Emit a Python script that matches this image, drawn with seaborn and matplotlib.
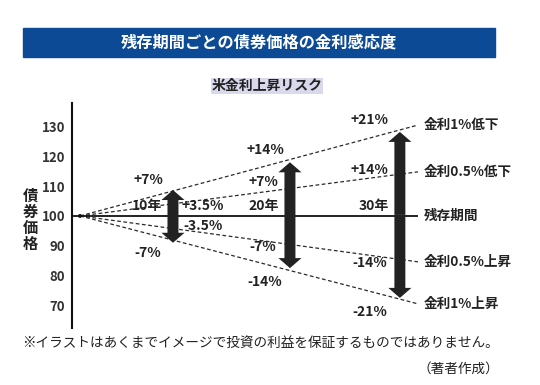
import numpy as np
import pandas as pd
import matplotlib
matplotlib.use("Agg")
import matplotlib.pyplot as plt
from matplotlib.patches import FancyArrowPatch, Rectangle
import seaborn as sns

# values (illustrative scale, not the % labels)
years = [10, 20, 30]
year_labels = ["10年", "20年", "30年"]
arrow_top = [108.7, 118.0, 128.2]
arrow_bottom = [91.0, 82.5, 72.5]

scenarios = ["金利1%低下", "金利0.5%低下", "金利0.5%上昇", "金利1%上昇"]
line_end_x = 31.7
line_end_y = [130.5, 114.8, 84.6, 70.5]
base_label = "残存期間"

yticks = [70, 80, 90, 100, 110, 120, 130]

# percent labels: (text, year, y, dx in px from arrow)
pct_labels = [
    ("+7%", 10, 112.1, -25), ("-7%", 10, 87.6, -25),
    ("+3.5%", 10, 103.4, 30), ("-3.5%", 10, 96.6, 30),
    ("+14%", 20, 122.1, -25), ("+7%", 20, 111.4, -27),
    ("-7%", 20, 89.6, -27), ("-14%", 20, 77.9, -25),
    ("+21%", 30, 132.2, -30), ("+14%", 30, 115.4, -30),
    ("-14%", 30, 84.2, -30), ("-21%", 30, 67.8, -30),
]

sns.set_theme(style="white")
plt.rcParams["font.family"] = ["Noto Sans CJK JP", "DejaVu Sans"]
TXT = "#222222"

# the illustration spaces the maturities unevenly; keep that with a
# piecewise-linear x scale (years -> drawn position)
knots = [-10, 0, 10, 20, 30, 40]
drawn = [-10, 0, 8.72, 19.69, 30, 40]


def fwd(x):
    return np.interp(np.asarray(x, float), knots, drawn)


def inv(u):
    return np.interp(np.asarray(u, float), drawn, knots)


fig = plt.figure(figsize=(5.4, 3.85), dpi=100)
ax = fig.add_axes([72 / 540, 1 - 328 / 385, 346 / 540, 225 / 385])
ax.set_xscale("function", functions=(fwd, inv))
ax.set_xlim(-0.75, line_end_x)
ax.set_ylim(62.4, 137.9)

# dashed rate lines from the origin
df = pd.DataFrame({
    "scenario": np.repeat(scenarios, 2),
    "x": [0, line_end_x] * len(scenarios),
    "y": [v for end in line_end_y for v in (100, end)],
})
for name, grp in df.groupby("scenario", sort=False):
    sns.lineplot(data=grp, x="x", y="y", ax=ax, color="#2a2a2a",
                 linewidth=0.9, linestyle=(0, (3, 2)), estimator=None)

ax.axhline(100, color="#111111", linewidth=1.3, zorder=2)
sns.scatterplot(x=[0], y=[100], ax=ax, color="#111111", s=8, zorder=4,
                edgecolor="none")

# double headed arrows (two heads drawn from the middle, sizes in points)
style = "simple,head_length=0.72,head_width=1.66,tail_width=0.79"
for x, top, bot in zip(years, arrow_top, arrow_bottom):
    mid = (top + bot) / 2
    for end in (top, bot):
        ax.add_patch(FancyArrowPatch((x, mid), (x, end), arrowstyle=style,
                                     mutation_scale=10, shrinkA=0, shrinkB=0,
                                     color="#222222", linewidth=0, zorder=5))

# year labels
for x, lab in zip(years, year_labels):
    ax.annotate(lab, xy=(x, 103.2), xytext=(-26 * 0.72, 0),
                textcoords="offset points", ha="center", va="center",
                fontsize=10, fontweight="bold", color=TXT)

for lab, x, y, dx in pct_labels:
    ax.annotate(lab, xy=(x, y), xytext=(dx * 0.72, 0),
                textcoords="offset points", ha="center", va="center",
                fontsize=10, fontweight="bold", color=TXT)

# right side labels
right = [(scenarios[0], line_end_y[0]), (scenarios[1], line_end_y[1]),
         (base_label, 100), (scenarios[2], line_end_y[2]),
         (scenarios[3], line_end_y[3])]
for lab, y in right:
    ax.annotate(lab, xy=(line_end_x, y), xytext=(4, 0),
                textcoords="offset points", ha="left", va="center",
                fontsize=9.8, fontweight="bold", color=TXT,
                annotation_clip=False)

ax.set_yticks(yticks)
ax.set_yticklabels([str(t) for t in yticks], fontsize=9.5,
                   fontweight="bold", color="#333333")
ax.tick_params(axis="y", length=0, pad=5)
ax.set_xticks([])
ax.minorticks_off()
ax.set_xlabel("")
ax.set_ylabel("")
for s in ["top", "right", "bottom"]:
    ax.spines[s].set_visible(False)
ax.spines["left"].set_color("#111111")
ax.spines["left"].set_linewidth(1.5)

# header banner
fig.patches.append(Rectangle((23 / 540, 1 - 57 / 385), 472 / 540, 29 / 385,
                             transform=fig.transFigure, color="#0d4a96",
                             zorder=0))
fig.text(259 / 540, 1 - 42.5 / 385, "残存期間ごとの債券価格の金利感応度",
         ha="center", va="center", color="white", fontsize=11.7,
         fontweight="bold")
fig.text(267 / 540, 1 - 86 / 385, "米金利上昇リスク", ha="center",
         va="center", fontsize=10, fontweight="bold", color=TXT,
         bbox=dict(facecolor="#d9d9ee", edgecolor="none", pad=0.5))
fig.text(30 / 540, 1 - 220 / 385, "債\n券\n価\n格", ha="center",
         va="center", fontsize=11, fontweight="bold", linespacing=1.0,
         color=TXT)
fig.text(22 / 540, 1 - 343 / 385,
         "※イラストはあくまでイメージで投資の利益を保証するものではありません。",
         ha="left", va="center", fontsize=9.8, color=TXT)
fig.text(499 / 540, 1 - 369 / 385, "（著者作成）", ha="right", va="center",
         fontsize=9.8, color=TXT)

fig.savefig("out.png", dpi=100, facecolor="white")
